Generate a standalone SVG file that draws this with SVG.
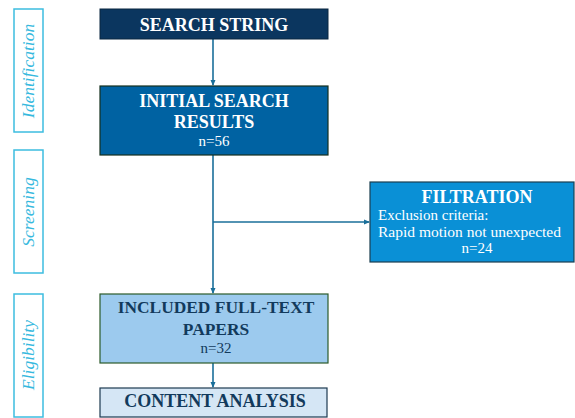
<svg xmlns="http://www.w3.org/2000/svg" width="575" height="418" viewBox="0 0 575 418">
<defs>
<marker id="arr" markerWidth="6" markerHeight="6" refX="5" refY="3" orient="auto" markerUnits="userSpaceOnUse">
<path d="M0,0.5 L6,3 L0,5.5 Z" fill="#1a6f9a"/>
</marker>
</defs>
<style>
.side{fill:#fff;stroke:#3dbde0;stroke-width:1.5}
.sidet{font-family:"Liberation Serif","DejaVu Serif",serif;font-style:italic;font-size:17.5px;fill:#36b9de;text-anchor:middle}
.t{font-family:"Liberation Serif","DejaVu Serif",serif;text-anchor:middle}
.b{font-weight:bold;font-size:18px}
.n{font-size:15px}
.w{fill:#ffffff}
.d{fill:#123a5c}
.c{stroke:#1a6f9a;stroke-width:1.6;fill:none}
</style>
<g id="phase-identification">
<rect class="side" x="14" y="9" width="29" height="123"/>
<text class="sidet" transform="translate(34,71) rotate(-90)">Identification</text>
</g>
<g id="phase-screening">
<rect class="side" x="14" y="150" width="29" height="123"/>
<text class="sidet" transform="translate(34,212) rotate(-90)">Screening</text>
</g>
<g id="phase-eligibility">
<rect class="side" x="14" y="294" width="29" height="123"/>
<text class="sidet" transform="translate(34,355) rotate(-90)">Eligibility</text>
</g>
<g id="connectors">
<line class="c" x1="213" y1="39" x2="213" y2="85" marker-end="url(#arr)"/>
<line class="c" x1="213" y1="155" x2="213" y2="293" marker-end="url(#arr)"/>
<line class="c" x1="213" y1="222" x2="369" y2="222" marker-end="url(#arr)"/>
<line class="c" x1="213" y1="363" x2="213" y2="387" marker-end="url(#arr)"/>
</g>
<g id="search-string">
<rect x="100" y="9" width="228" height="30" fill="#0b365f" stroke="#0a2740" stroke-width="1"/>
<text class="t b w" x="214" y="31">SEARCH STRING</text>
</g>
<g id="initial-search">
<rect x="100" y="86" width="228" height="69" fill="#0062a2" stroke="#14301f" stroke-width="1.2"/>
<text class="t b w" x="214" y="107">INITIAL SEARCH</text>
<text class="t b w" x="214" y="128">RESULTS</text>
<text class="t n w" x="214" y="146">n=56</text>
</g>
<g id="filtration">
<rect x="370" y="182" width="204" height="80" fill="#0a90d6" stroke="#1b3f50" stroke-width="1.2"/>
<text class="t b w" x="477" y="203">FILTRATION</text>
<text class="t w" x="378" y="220" style="text-anchor:start;font-size:15px">Exclusion criteria:</text>
<text class="t w" x="378" y="237" style="text-anchor:start;font-size:15.5px">Rapid motion not unexpected</text>
<text class="t n w" x="477" y="253">n=24</text>
</g>
<g id="included">
<rect x="100" y="294" width="228" height="69" fill="#9ccaee" stroke="#2c5a2a" stroke-width="1.2"/>
<text class="t b d" x="216" y="313" style="font-size:17.4px">INCLUDED FULL-TEXT</text>
<text class="t b d" x="216" y="335" style="font-size:17.4px">PAPERS</text>
<text class="t n d" x="216" y="353">n=32</text>
</g>
<g id="content-analysis">
<rect x="100" y="388" width="227" height="29" fill="#d5e6f5" stroke="#1d3a50" stroke-width="1.2"/>
<text class="t b d" x="215" y="407">CONTENT ANALYSIS</text>
</g>
</svg>
